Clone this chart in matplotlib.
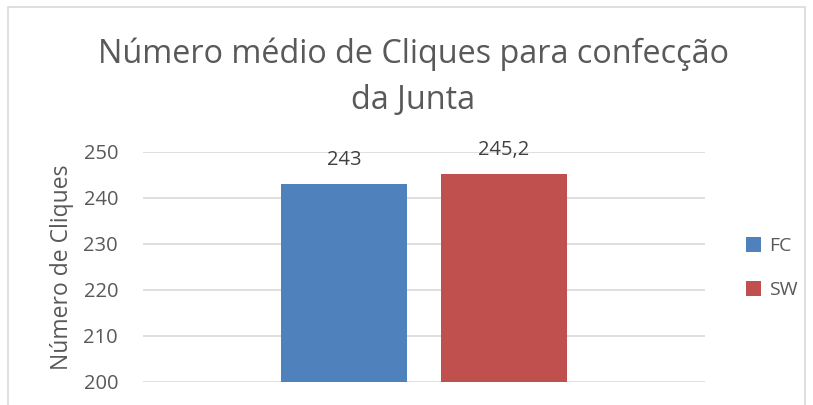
import matplotlib.pyplot as plt
from matplotlib.patches import Rectangle, Patch

series = ["FC", "SW"]
values = [243, 245.2]
labels = ["243", "245,2"]
colors = ["#4F81BD", "#C0504D"]
yticks = [200, 210, 220, 230, 240, 250]

plt.rcParams['font.family'] = ['Open Sans', 'DejaVu Sans']
text_color = "#595959"

fig = plt.figure(figsize=(8.13, 4.05), dpi=100)
# chart border
fig.patches.append(Rectangle((8 / 813, -0.05), 797 / 813, 1 - 7 / 405 + 0.05,
                             transform=fig.transFigure, fill=False,
                             edgecolor="#D9D9D9", linewidth=1.2))

ax = fig.add_axes([143 / 813, 1 - 382 / 405, 562 / 813, 230 / 405])
offsets = [-0.285, 0.285]
for off, v, lab, c in zip(offsets, values, labels, colors):
    ax.bar(off, v - 200, bottom=200, width=0.45, color=c, zorder=3)
    ax.text(off, v + 3.0, lab, ha="center", va="bottom", fontsize=14.5, color="#404040")

ax.set_xlim(-1, 1)
ax.set_ylim(200, 250)
ax.set_yticks(yticks)
ax.set_xticks([])
ax.tick_params(axis="y", length=0, labelsize=14.5, labelcolor=text_color, pad=18)
ax.grid(axis="y", color="#D9D9D9", linewidth=1.2, zorder=0)
for s in ax.spines.values():
    s.set_visible(False)

fig.text(62 / 813, 1 - 267 / 405, "Número de Cliques", rotation=90, ha="center", va="center",
         fontsize=16.5, color=text_color)

fig.text(413 / 813, 1 - 77 / 405, "Número médio de Cliques para confecção\nda Junta",
         ha="center", va="center", fontsize=23.3, color=text_color, linespacing=1.52)

handles = [Patch(facecolor=c) for c in colors]
fig.legend(handles, series, loc="center left", bbox_to_anchor=(728 / 813, 1 - 268 / 405),
           frameon=False, fontsize=14, labelcolor=text_color, handlelength=0.8, handleheight=0.8,
           handletextpad=0.4, labelspacing=1.35)

fig.savefig("out.png", dpi=100)
